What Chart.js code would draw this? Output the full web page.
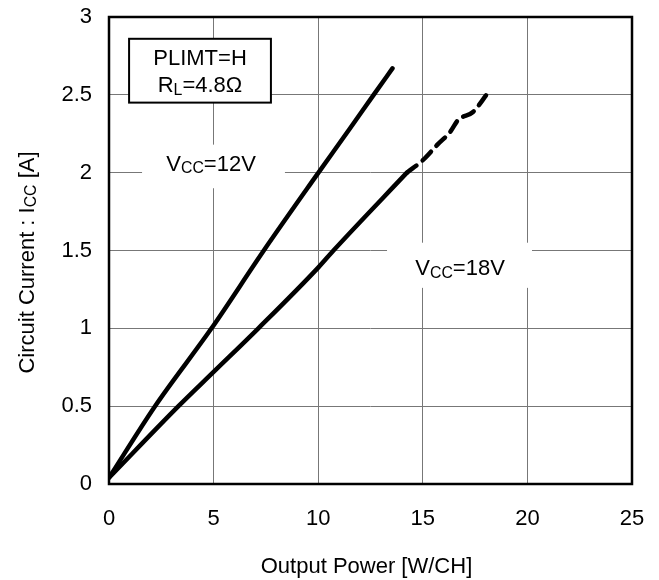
<!DOCTYPE html>
<html lang="en">
<head>
  <meta charset="UTF-8" />
  <title>Circuit Current vs Output Power</title>
  <script src="https://cdn.jsdelivr.net/npm/chart.js"></script>
  <style>
    body { margin: 0; background: #fff; }
    #chart { display: block; }
  </style>
</head>
<body>
  <canvas id="chart" width="659" height="580"></canvas>
  <script>
    const power12 = [0, 2.2, 4.9, 7.4, 9.8, 11.55, 12.65, 13.55];
    const current12 = [0.04, 0.5, 1.0, 1.5, 1.96, 2.29, 2.5, 2.67];
    const power18 = [0, 3.32, 5, 7.14, 10, 10.73, 14.24];
    const current18 = [0.04, 0.5, 0.72, 1.0, 1.39, 1.5, 2.0];
    const power18ext = [14.24, 15.0, 15.7, 16.3, 16.7, 17.4, 18.1];
    const current18ext = [2.0, 2.08, 2.18, 2.26, 2.34, 2.39, 2.51];
    const xTicks = [0, 5, 10, 15, 20, 25];
    const yTicks = ['0', '0.5', '1', '1.5', '2', '2.5', '3'];

    const FONT = '"Liberation Sans", Arial, sans-serif';
    const SIZE = 22;
    const pts = (xs, ys) => xs.map((x, i) => ({ x: x, y: ys[i] }));

    // draw text made of [string, isSubscript] pieces, centered on cx
    function drawParts(ctx, parts, cx, cy, size) {
      const sub = size * 0.72;
      let w = 0;
      parts.forEach(p => {
        ctx.font = (p[1] ? sub : size) + 'px ' + FONT;
        w += ctx.measureText(p[0]).width;
      });
      let x = cx - w / 2;
      ctx.textAlign = 'left';
      ctx.textBaseline = 'alphabetic';
      parts.forEach(p => {
        ctx.font = (p[1] ? sub : size) + 'px ' + FONT;
        ctx.fillText(p[0], x, cy + (p[1] ? size * 0.1 : 0));
        x += ctx.measureText(p[0]).width;
      });
    }

    const extras = {
      id: 'extras',
      afterDatasetsDraw(chart) {
        const ctx = chart.ctx;
        const xs = chart.scales.x, ys = chart.scales.y;
        const px = v => xs.getPixelForValue(v);
        const py = v => ys.getPixelForValue(v);
        ctx.save();
        ctx.fillStyle = '#fff';
        // white patches behind the series labels
        ctx.fillRect(px(1.58), py(2.18), px(8.41) - px(1.58), py(1.90) - py(2.18));
        ctx.fillRect(px(13.29), py(1.55), px(20.22) - px(13.29), py(1.26) - py(1.55));
        // condition box
        ctx.fillRect(px(0.96), py(2.86), px(7.74) - px(0.96), py(2.45) - py(2.86));
        ctx.strokeStyle = '#000';
        ctx.lineWidth = 2;
        ctx.strokeRect(px(0.96), py(2.86), px(7.74) - px(0.96), py(2.45) - py(2.86));

        ctx.fillStyle = '#000';
        drawParts(ctx, [['PLIMT=H', false]], px(4.35), py(2.69), SIZE);
        drawParts(ctx, [['R', false], ['L', true], ['=4.8Ω', false]], px(4.35), py(2.515), SIZE);
        drawParts(ctx, [['V', false], ['CC', true], ['=12V', false]], px(4.88), py(2.01), SIZE);
        drawParts(ctx, [['V', false], ['CC', true], ['=18V', false]], px(16.78), py(1.34), SIZE);

        // frame
        const a = chart.chartArea;
        ctx.lineWidth = 2.5;
        ctx.strokeRect(a.left, a.top, a.right - a.left, a.bottom - a.top);

        // axis titles
        drawParts(ctx, [['Output Power [W/CH]', false]], (a.left + a.right) / 2 - 4, 573, SIZE);
        ctx.translate(34, (a.top + a.bottom) / 2 + 12);
        ctx.rotate(-Math.PI / 2);
        drawParts(ctx, [['Circuit Current : I', false], ['CC', true], [' [A]', false]], 0, 0, SIZE);
        ctx.restore();
      }
    };

    new Chart(document.getElementById('chart'), {
      type: 'scatter',
      data: {
        datasets: [
          { label: 'VCC=12V', data: pts(power12, current12) },
          { label: 'VCC=18V', data: pts(power18, current18) },
          { label: 'VCC=18V ext', data: pts(power18ext, current18ext), borderDash: [12, 8] }
        ]
      },
      options: {
        responsive: false,
        animation: false,
        showLine: true,
        layout: { padding: { top: 17, right: 27, left: 0, bottom: 0 } },
        elements: {
          point: { radius: 0 },
          line: { borderColor: '#000', borderWidth: 4.5, cubicInterpolationMode: 'monotone', borderCapStyle: 'round' }
        },
        plugins: { legend: { display: false }, tooltip: { enabled: false } },
        scales: {
          x: {
            min: 0, max: 25,
            afterBuildTicks: s => { s.ticks = xTicks.map(v => ({ value: v })); },
            afterFit: s => { s.height = 96; s.paddingLeft = 0; s.paddingRight = 0; },
            grid: { color: '#777', lineWidth: 1, drawTicks: false },
            border: { display: false },
            ticks: { color: '#000', padding: 22, font: { family: FONT, size: SIZE } }
          },
          y: {
            min: 0, max: 3,
            afterBuildTicks: s => { s.ticks = yTicks.map(v => ({ value: Number(v) })); },
            afterFit: s => { s.width = 109; s.paddingTop = 0; s.paddingBottom = 0; },
            grid: { color: '#777', lineWidth: 1, drawTicks: false },
            border: { display: false },
            ticks: {
              color: '#000', padding: 17, font: { family: FONT, size: SIZE },
              callback: (v, i) => yTicks[i]
            }
          }
        }
      },
      plugins: [extras]
    });
  </script>
</body>
</html>
